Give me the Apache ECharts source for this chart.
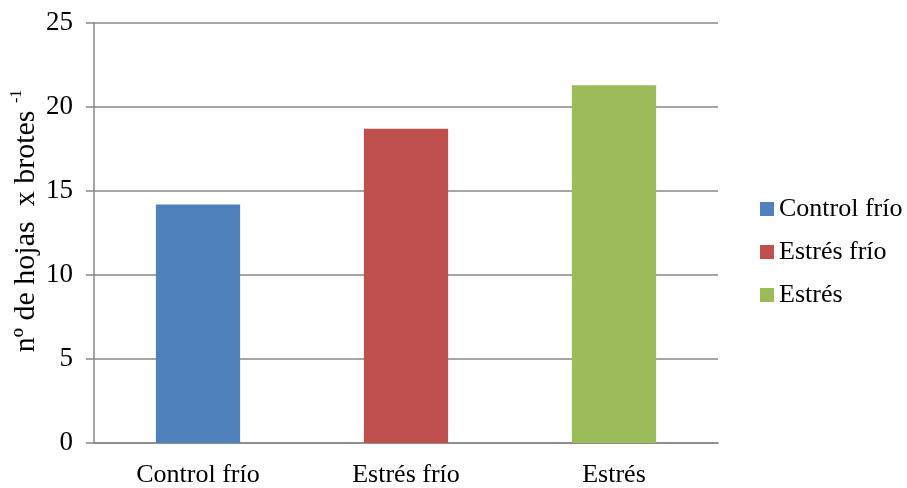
<!DOCTYPE html>
<html>
<head>
<meta charset="utf-8">
<script src="https://cdn.jsdelivr.net/npm/echarts@6/dist/echarts.min.js"></script>
<style>
  html, body { margin: 0; padding: 0; background: #fff; }
  #chart { width: 907px; height: 488px; }
</style>
</head>
<body>
<div id="chart"></div>
<script>
// Número de hojas por brote según tratamiento
const categories = ['Control frío', 'Estrés frío', 'Estrés'];
const values = [14.2, 18.7, 21.3];
const colors = ['#4F81BD', '#C0504D', '#9BBB59'];
const yTicks = [0, 5, 10, 15, 20, 25];
const yTitle = 'nº de hojas  x brotes ';
const yTitleSup = '-1';

const font = 'Liberation Serif, Times New Roman, serif';
const gridColor = '#888888';

// One series per treatment so each gets its own legend entry;
// a shared stack keeps every bar centred on its category.
const series = categories.map((name, i) => ({
  name: name,
  type: 'bar',
  stack: 'all',
  barWidth: '40.5%',
  itemStyle: { color: colors[i] },
  data: categories.map((c, j) => (j === i ? values[i] : '-'))
}));

const chart = echarts.init(document.getElementById('chart'));
chart.setOption({
  animation: false,
  textStyle: { fontFamily: font },
  grid: { left: 94, right: 189, top: 23, bottom: 43, containLabel: false },
  legend: {
    orient: 'vertical',
    left: 755,
    top: 191,
    itemWidth: 14,
    itemHeight: 14,
    itemGap: 17,
    icon: 'rect',
    textStyle: { fontFamily: font, fontSize: 26, color: '#000' },
    data: categories
  },
  // Vertical axis title with a superscript exponent
  graphic: [{
    type: 'text',
    x: 26,
    y: 221,
    rotation: Math.PI / 2,
    style: {
      text: '{a|' + yTitle + '}{s|' + yTitleSup + '}',
      align: 'center',
      verticalAlign: 'middle',
      rich: {
        a: { fontFamily: font, fontSize: 30, fill: '#000', lineHeight: 34 },
        s: { fontFamily: font, fontSize: 16, fill: '#000', verticalAlign: 'top', lineHeight: 26 }
      }
    }
  }],
  xAxis: {
    type: 'category',
    data: categories,
    axisLine: { lineStyle: { color: gridColor, width: 1.5 } },
    axisTick: { show: false },
    axisLabel: { fontFamily: font, fontSize: 26, color: '#000', margin: 19 }
  },
  yAxis: {
    type: 'value',
    min: yTicks[0],
    max: yTicks[yTicks.length - 1],
    interval: 5,
    axisLine: { show: true, lineStyle: { color: gridColor, width: 1.5 } },
    axisTick: { show: true, inside: false, length: 8, lineStyle: { color: gridColor, width: 1.5 } },
    splitLine: { show: true, lineStyle: { color: gridColor, width: 1.5 } },
    axisLabel: { fontFamily: font, fontSize: 27, color: '#000', margin: 21 }
  },
  series: series
});
</script>
</body>
</html>
